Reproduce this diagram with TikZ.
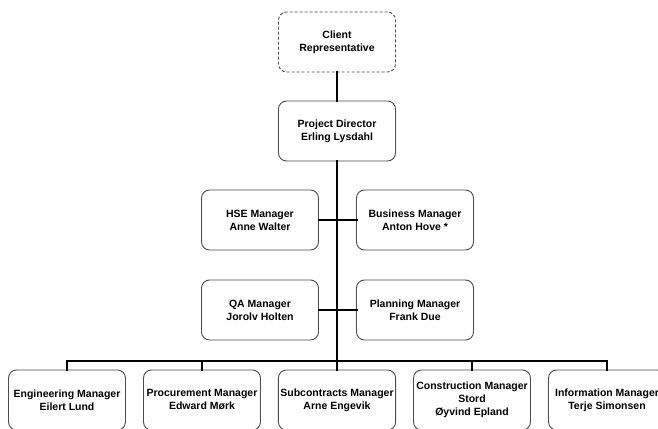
\documentclass[tikz,border=0pt]{standalone}
\usepackage{fontspec}
\setmainfont{Liberation Sans}
\begin{document}
\begin{tikzpicture}[x=1pt,y=-1pt,
  orgbox/.style={draw=black!70, line width=0.9pt, rounded corners=8pt,
    minimum width=117pt, minimum height=60pt, align=center,
    font=\fontsize{10.5}{13}\selectfont\bfseries, inner sep=2pt},
  clientbox/.style={orgbox, dash pattern=on 3pt off 2pt},
  link/.style={line width=2.9pt, line cap=rect}]
\useasboundingbox (0,0) rectangle (658,428);
\fill[white] (0,0) rectangle (658,428);

\node[clientbox] (client) at (337,42) {Client\\Representative};
\node[orgbox] (pd) at (337,131) {Project Director\\Erling Lysdahl};

\node[orgbox] (hse) at (260,220) {HSE Manager\\Anne Walter};
\node[orgbox] (bus) at (415,220) {Business Manager\\Anton Hove *};
\node[orgbox] (qa) at (260,310) {QA Manager\\Jorolv Holten};
\node[orgbox] (plan) at (415,310) {Planning Manager\\Frank Due};

\node[orgbox] (eng) at (67,400) {Engineering Manager\\Eilert Lund};
\node[orgbox] (proc) at (202,400) {Procurement Manager\\Edward Mørk};
\node[orgbox] (sub) at (337,400) {Subcontracts Manager\\Arne Engevik};
\node[orgbox] (cons) at (472,400) {Construction Manager\\Stord\\Øyvind Epland};
\node[orgbox] (info) at (607,400) {Information Manager\\Terje Simonsen};

\coordinate (busl) at (67,361);
\coordinate (busr) at (607,361);
\coordinate (busm) at (337,361);

\draw[link] (client) -- (pd);
\draw[link] (pd.south) -- (busm);
\draw[link] (hse.east) -- (bus.west);
\draw[link] (qa.east) -- (plan.west);
\draw[link] (busl) -- (busr);
\draw[link] (busl) -- (eng.north);
\draw[link] (proc.north |- busm) -- (proc.north);
\draw[link] (busm) -- (sub.north);
\draw[link] (cons.north |- busm) -- (cons.north);
\draw[link] (busr) -- (info.north);
\end{tikzpicture}
\end{document}
